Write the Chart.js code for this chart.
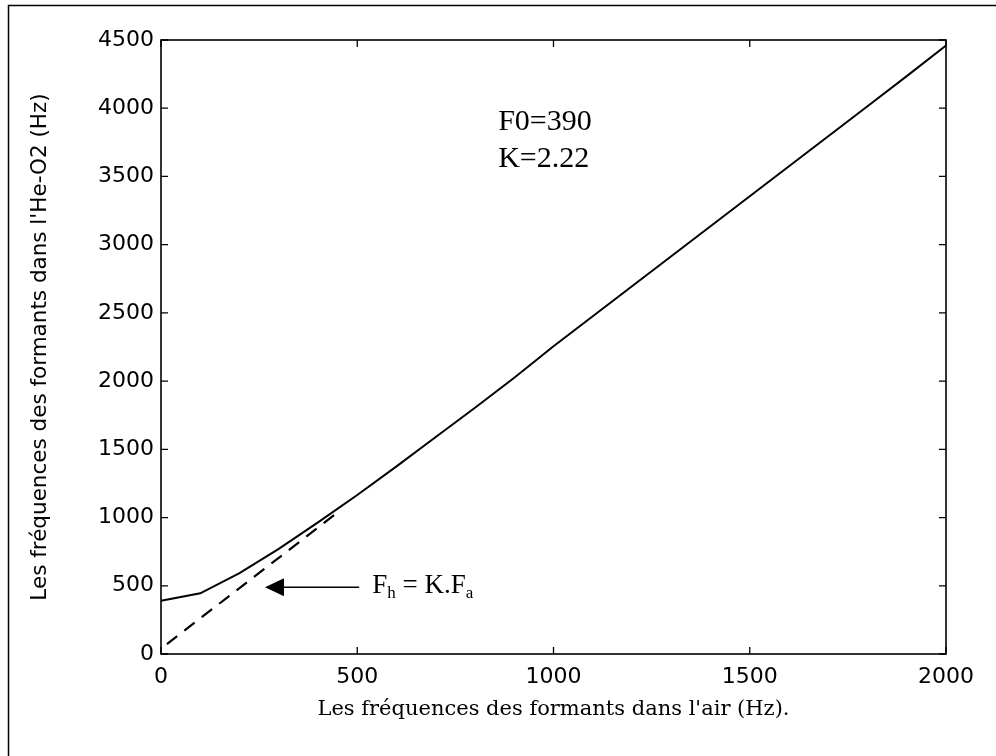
<!DOCTYPE html>
<html>
<head>
<meta charset="utf-8">
<script src="https://cdn.jsdelivr.net/npm/chart.js@4"></script>
<style>
  html, body { margin: 0; padding: 0; background: #fff; }
  #wrap { width: 996px; height: 756px; }
</style>
</head>
<body>
<div id="wrap"><canvas id="formantChart" width="996" height="756"></canvas></div>
<script>
// fréquences dans l'air (Hz) et dans l'He-O2 (Hz)
const airFreq    = [0, 100, 200, 300, 400, 500, 600, 700, 800, 900, 1000,
                    1100, 1200, 1300, 1400, 1500, 1600, 1700, 1800, 1900, 2000];
const heliumFreq = [390, 445, 592, 770, 965, 1165, 1375, 1590, 1805, 2025, 2255,
                    2475, 2695, 2915, 3135, 3355, 3575, 3795, 4015, 4235, 4460];

// droite Fh = K.Fa (tirets)
const linearAir    = [15, 448];
const linearHelium = [73, 1033];

// annotations
const paramLines  = ['F0=390', 'K=2.22'];
const paramPos    = { x: 859, y: [3840, 3569] };
const arrowTip    = { x: 265, y: 490 };
const arrowTail   = { x: 505, y: 490 };
const formulaPos  = { x: 538, y: 447 };

const xTicks = [0, 500, 1000, 1500, 2000];
const yTicks = [0, 500, 1000, 1500, 2000, 2500, 3000, 3500, 4000, 4500];

const toPoints = (xs, ys) => xs.map((x, i) => ({ x, y: ys[i] }));

// cadre, graduations internes et annotations
const matlabFrame = {
  id: 'matlabFrame',
  afterDraw(chart) {
    const { ctx, chartArea: a, scales: { x, y } } = chart;
    ctx.save();

    // bordure extérieure de la figure
    ctx.strokeStyle = '#000';
    ctx.lineWidth = 1.5;
    ctx.beginPath();
    ctx.moveTo(8.5, 756);
    ctx.lineTo(8.5, 5.5);
    ctx.lineTo(996, 5.5);
    ctx.stroke();

    // boîte des axes
    ctx.lineWidth = 1.6;
    ctx.strokeRect(a.left, a.top, a.right - a.left, a.bottom - a.top);

    // graduations vers l'intérieur
    const tl = 7;
    ctx.lineWidth = 1.3;
    ctx.beginPath();
    xTicks.forEach(v => {
      const px = x.getPixelForValue(v);
      ctx.moveTo(px, a.bottom); ctx.lineTo(px, a.bottom - tl);
      ctx.moveTo(px, a.top);    ctx.lineTo(px, a.top + tl);
    });
    yTicks.forEach(v => {
      const py = y.getPixelForValue(v);
      ctx.moveTo(a.left, py);  ctx.lineTo(a.left + tl, py);
      ctx.moveTo(a.right, py); ctx.lineTo(a.right - tl, py);
    });
    ctx.stroke();

    // F0 et K
    ctx.fillStyle = '#000';
    ctx.font = '30px "Liberation Serif", serif';
    ctx.textAlign = 'left';
    ctx.textBaseline = 'alphabetic';
    paramLines.forEach((t, i) => {
      ctx.fillText(t, x.getPixelForValue(paramPos.x), y.getPixelForValue(paramPos.y[i]));
    });

    // flèche
    const tipX = x.getPixelForValue(arrowTip.x);
    const tailX = x.getPixelForValue(arrowTail.x);
    const ay = y.getPixelForValue(arrowTip.y);
    ctx.lineWidth = 1.5;
    ctx.beginPath();
    ctx.moveTo(tailX, ay);
    ctx.lineTo(tipX + 10, ay);
    ctx.stroke();
    ctx.beginPath();
    ctx.moveTo(tipX, ay);
    ctx.lineTo(tipX + 19, ay - 9);
    ctx.lineTo(tipX + 19, ay + 9);
    ctx.closePath();
    ctx.fill();

    // Fh = K.Fa avec indices
    let fx = x.getPixelForValue(formulaPos.x);
    const fy = y.getPixelForValue(formulaPos.y);
    const big = '27px "Liberation Serif", serif';
    const small = '17px "Liberation Serif", serif';
    const parts = [['F', big, 0], ['h', small, 5], [' = K.F', big, 0], ['a', small, 5]];
    parts.forEach(([t, f, dy]) => {
      ctx.font = f;
      ctx.fillText(t, fx, fy + dy);
      fx += ctx.measureText(t).width;
    });

    ctx.restore();
  }
};

const ctx = document.getElementById('formantChart').getContext('2d');
const formantChart = new Chart(ctx, {
  type: 'scatter',
  data: {
    datasets: [
      {
        label: 'Fh',
        data: toPoints(airFreq, heliumFreq),
        showLine: true,
        borderColor: '#000',
        borderWidth: 2,
        pointRadius: 0,
        tension: 0
      },
      {
        label: 'K.Fa',
        data: toPoints(linearAir, linearHelium),
        showLine: true,
        borderColor: '#000',
        borderWidth: 2.2,
        borderDash: [13, 9],
        pointRadius: 0,
        tension: 0
      }
    ]
  },
  options: {
    responsive: false,
    animation: false,
    layout: { padding: { left: 20, top: 40, right: 50, bottom: 22 } },
    plugins: {
      legend: { display: false },
      tooltip: { enabled: false }
    },
    scales: {
      x: {
        type: 'linear',
        min: 0,
        max: 2000,
        afterFit: s => { s.height = 80; },
        afterBuildTicks: s => { s.ticks = xTicks.map(v => ({ value: v })); },
        grid: { display: false, drawTicks: false },
        border: { display: false },
        ticks: {
          padding: 10,
          color: '#000',
          font: { family: '"DejaVu Sans", sans-serif', size: 22 },
          callback: v => String(v)
        },
        title: {
          display: true,
          text: "Les fréquences des formants dans l'air (Hz).",
          color: '#000',
          padding: { top: 0, bottom: 12 },
          font: { family: '"DejaVu Serif", serif', size: 21 }
        }
      },
      y: {
        type: 'linear',
        min: 0,
        max: 4500,
        afterFit: s => { s.width = 141; },
        afterBuildTicks: s => { s.ticks = yTicks.map(v => ({ value: v })); },
        grid: { display: false, drawTicks: false },
        border: { display: false },
        ticks: {
          padding: 7,
          color: '#000',
          font: { family: '"DejaVu Sans", sans-serif', size: 22 },
          callback: v => String(v)
        },
        title: {
          display: true,
          text: "Les fréquences des formants dans l'He-O2 (Hz)",
          color: '#000',
          padding: { top: 8, bottom: 0 },
          font: { family: '"DejaVu Sans", sans-serif', size: 21.5 }
        }
      }
    }
  },
  plugins: [matlabFrame]
});
</script>
</body>
</html>
